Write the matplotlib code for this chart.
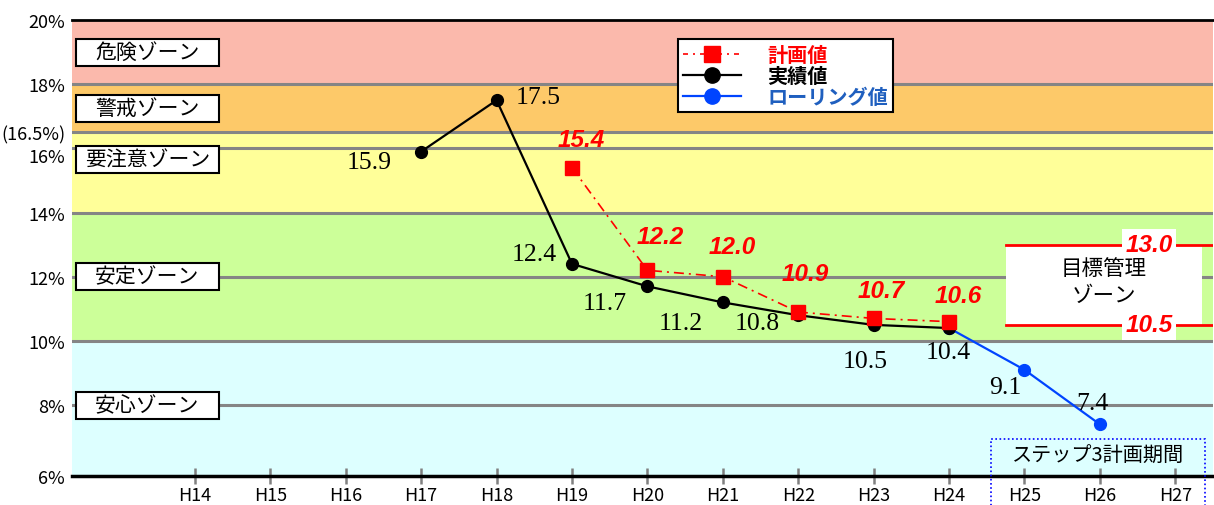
import matplotlib
matplotlib.use('Agg')
import matplotlib.pyplot as plt
from matplotlib.lines import Line2D
from matplotlib.patches import Rectangle

# ---- data ----
YEARS = ['H14', 'H15', 'H16', 'H17', 'H18', 'H19', 'H20',
         'H21', 'H22', 'H23', 'H24', 'H25', 'H26', 'H27']

PLAN_YEARS = ['H19', 'H20', 'H21', 'H22', 'H23', 'H24']
PLAN = [15.4, 12.2, 12.0, 10.9, 10.7, 10.6]

ACTUAL_YEARS = ['H17', 'H18', 'H19', 'H20', 'H21', 'H22', 'H23', 'H24']
ACTUAL = [15.9, 17.5, 12.4, 11.7, 11.2, 10.8, 10.5, 10.4]

ROLLING_YEARS = ['H24', 'H25', 'H26']
ROLLING = [10.4, 9.1, 7.4]

ZONE_NAMES = ['安心ゾーン', '安定ゾーン', '要注意ゾーン', '警戒ゾーン', '危険ゾーン']
ZONE_LOW = [5.79, 10.0, 14.0, 16.5, 18.0]
ZONE_HIGH = [10.0, 14.0, 16.5, 18.0, 20.0]
ZONE_LABEL_Y = [8.0, 12.0, 15.65, 17.25, 19.0]
ZONE_COLORS = ['#DDFFFF', '#CCFF99', '#FFFF99', '#FDC969', '#FBB9AC']

TARGET_HIGH = 13.0
TARGET_LOW = 10.5

Y_TICKS = [5.79, 8, 10, 12, 14, 16, 16.5, 18, 20]
Y_TICK_LABELS = ['6%', '8%', '10%', '12%', '14%', '16%', '(16.5%)', '18%', '20%']
GRID_Y = [8, 10, 12, 14, 16, 16.5, 18]

# label offsets in pixels (dx, dy)
ACTUAL_OFFS = [(-52, -10), (42, 3), (-38, 10), (-43, -17), (-42, -21),
               (-41, -8), (-8, -36), (-1, -24)]
ROLLING_OFFS = [(-19, -17), (-8, 21)]
PLAN_OFFS = [(9, 28), (13, 34), (9, 30), (7, 39), (8, 28), (9, 26)]

plt.rcParams['font.family'] = ['Noto Sans CJK JP', 'DejaVu Sans']

RED = '#FF0000'
BLUE = '#0044FF'
BLUE_TXT = '#1F5FBF'

fig = plt.figure(figsize=(12.14, 5.06), dpi=100)
ax = fig.add_axes([72 / 1214, 1 - 477 / 506, 1141 / 1214, 456 / 506])

x_of = {y: i for i, y in enumerate(YEARS)}
px = [x_of[y] for y in PLAN_YEARS]
ax_ = [x_of[y] for y in ACTUAL_YEARS]
rx = [x_of[y] for y in ROLLING_YEARS]

ax.set_xlim(-1.63, 13.5)
ax.set_ylim(ZONE_LOW[0], 20)

# zone bands and grid
for lo, hi, c in zip(ZONE_LOW, ZONE_HIGH, ZONE_COLORS):
    ax.axhspan(lo, hi, color=c, lw=0, zorder=0)
for gy in GRID_Y:
    ax.axhline(gy, color='#858585', lw=2.2, zorder=1)

# zone labels on the left
for name, ly in zip(ZONE_NAMES, ZONE_LABEL_Y):
    ax.add_patch(Rectangle((-1.58, ly - 0.42), 1.9, 0.84, facecolor='white',
                           edgecolor='black', lw=1.5, zorder=3))
    ax.text(-0.63, ly, name, ha='center', va='center', fontsize=15, zorder=4)

# target management zone
ax.add_patch(Rectangle((10.75, TARGET_LOW), 2.6, TARGET_HIGH - TARGET_LOW,
                       facecolor='white', edgecolor='none', zorder=2))
for ty in (TARGET_HIGH, TARGET_LOW):
    ax.plot([10.75, 13.5], [ty, ty], color=RED, lw=2, zorder=3)
    ax.text(12.65, ty, f'{ty:.1f}', ha='center', va='center', color=RED,
            fontsize=17.5, fontweight='bold', fontstyle='italic',
            family='Liberation Sans', zorder=4,
            bbox=dict(boxstyle='square,pad=0.15', fc='white', ec='none'))
ax.text(12.05, (TARGET_HIGH + TARGET_LOW) / 2 + 0.1, '目標管理\nゾーン',
        ha='center', va='center', fontsize=15.5, linespacing=1.3, zorder=4)

# step 3 period box
ax.add_patch(Rectangle((10.56, 4.5), 2.84, 2.45, facecolor='none',
                       edgecolor='#0000FF', lw=1.2, ls=(0, (1, 1.5)),
                       clip_on=False, zorder=3))
ax.text(11.98, 6.44, 'ステップ3計画期間', ha='center', va='center',
        fontsize=14.5, zorder=4)

# series
ax.plot(rx, ROLLING, color=BLUE, lw=1.6, marker='o', ms=8.5, zorder=5)
ax.plot(ax_, ACTUAL, color='black', lw=1.6, marker='o', ms=8.5, zorder=6)
ax.plot(px, PLAN, color=RED, lw=1.2, dashes=(6, 3, 1.2, 3), marker='s',
        ms=9.5, zorder=7)

for x, v, (dx, dy) in zip(ax_, ACTUAL, ACTUAL_OFFS):
    ax.annotate(f'{v:.1f}', (x, v), xytext=(dx, dy), textcoords='offset pixels',
                ha='center', va='center', fontsize=18.5, family='Liberation Serif',
                zorder=8)
for x, v, (dx, dy) in zip(rx[1:], ROLLING[1:], ROLLING_OFFS):
    ax.annotate(f'{v:.1f}', (x, v), xytext=(dx, dy), textcoords='offset pixels',
                ha='center', va='center', fontsize=18.5, family='Liberation Serif',
                zorder=8)
for x, v, (dx, dy) in zip(px, PLAN, PLAN_OFFS):
    ax.annotate(f'{v:.1f}', (x, v), xytext=(dx, dy), textcoords='offset pixels',
                ha='center', va='center', fontsize=17.5, color=RED,
                fontweight='bold', fontstyle='italic', family='Liberation Sans',
                zorder=8)

# axes
for s in ('left', 'right'):
    ax.spines[s].set_visible(False)
ax.spines['bottom'].set_linewidth(2.5)
ax.spines['top'].set_linewidth(2)
ax.set_xticks(range(len(YEARS)))
ax.set_xticklabels(YEARS)
ax.tick_params(axis='x', direction='inout', length=11.5, width=1.8,
               color='#808080', labelsize=13, pad=1.5)
ax.set_yticks(Y_TICKS)
ax.set_yticklabels(Y_TICK_LABELS)
ax.tick_params(axis='y', length=0, labelsize=13, pad=5)
# the 16% label sits just under its line, clear of (16.5%)
ax.get_yticklabels()[Y_TICK_LABELS.index('16%')].set_va('top')

# legend
handles = [
    Line2D([], [], color=RED, lw=1.2, dashes=(3, 3, 1.2, 3), marker='s', ms=11),
    Line2D([], [], color='black', lw=1.6, marker='o', ms=11),
    Line2D([], [], color=BLUE, lw=1.6, marker='o', ms=11),
]
leg = ax.legend(handles, ['計画値', '実績値', 'ローリング値'], loc='upper left',
                bbox_to_anchor=(678 / 1214, 1 - 40 / 506),
                bbox_transform=fig.transFigure, fontsize=14.5, frameon=True,
                fancybox=False, edgecolor='black', framealpha=1,
                handlelength=2.9, handletextpad=1.3, labelspacing=0.0,
                borderpad=0.25, borderaxespad=0)
leg.get_frame().set_linewidth(1.5)
leg.set_zorder(10)
txts = leg.get_texts()
txts[0].set_color(RED)
txts[0].set_fontweight('bold')
txts[1].set_fontweight('bold')
txts[2].set_color(BLUE_TXT)
txts[2].set_fontweight('bold')

fig.savefig('out.png', dpi=100)
